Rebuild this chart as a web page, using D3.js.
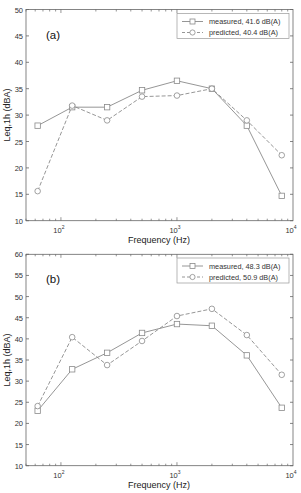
<!DOCTYPE html>
<html><head><meta charset="utf-8">
<script src="https://cdn.jsdelivr.net/npm/d3@7"></script>
<style>body{margin:0;background:#fff}svg{display:block;font-family:"Liberation Sans",Arial,sans-serif}</style>
</head><body><svg id="c" width="301" height="493"></svg>
<script>
const freqs = [63,125,250,500,1000,2000,4000,8000];
const measuredA = [28,31.5,31.5,34.7,36.5,35,28,14.7];
const predictedA = [15.6,31.8,29,33.5,33.7,35,29,22.4];
const measuredB = [23,32.8,36.7,41.4,43.5,43.1,36.1,23.7];
const predictedB = [24.1,40.4,33.8,39.5,45.4,47.1,40.9,31.5];
const labelsA = ["measured, 41.6 dB(A)","predicted, 40.4 dB(A)"];
const labelsB = ["measured, 48.3 dB(A)","predicted, 50.9 dB(A)"];
const yTicksA = d3.range(10,51,5);
const yTicksB = d3.range(10,61,5);
const xTicks = [100,1000,10000];

const svg = d3.select("#c");
const col = "#8a8a8a";
const axCol = "#666";

function panel(top, bottom, yMax, yTicks, meas, pred, labels, tag, legTop) {
  const g = svg.append("g");
  const x = d3.scaleLog().domain([50,10000]).range([26,293]);
  const y = d3.scaleLinear().domain([10,yMax]).range([bottom, top]);
  g.append("rect").attr("x",26).attr("y",top).attr("width",267).attr("height",bottom-top)
    .attr("fill","none").attr("stroke",axCol).attr("stroke-width",0.8);
  // y ticks
  yTicks.forEach(t=>{
    g.append("line").attr("x1",26).attr("x2",29).attr("y1",y(t)).attr("y2",y(t)).attr("stroke",axCol).attr("stroke-width",0.8);
    g.append("line").attr("x1",290).attr("x2",293).attr("y1",y(t)).attr("y2",y(t)).attr("stroke",axCol).attr("stroke-width",0.8);
    g.append("text").attr("x",23).attr("y",y(t)+3).attr("text-anchor","end").attr("font-size",7.5).attr("fill","#333").text(t);
  });
  // x ticks major + minor
  const minor = [];
  for (let d=10; d<10000; d*=10) for (let k=1;k<10;k++){ const v=d*k; if(v>=50 && v<=10000) minor.push(v); }
  minor.forEach(v=>{
    const major = xTicks.includes(v);
    const L = major?3.5:2;
    g.append("line").attr("x1",x(v)).attr("x2",x(v)).attr("y1",bottom).attr("y2",bottom-L).attr("stroke",axCol).attr("stroke-width",0.7);
    g.append("line").attr("x1",x(v)).attr("x2",x(v)).attr("y1",top).attr("y2",top+L).attr("stroke",axCol).attr("stroke-width",0.7);
  });
  xTicks.forEach(v=>{
    const t = g.append("text").attr("x",x(v)-2).attr("y",bottom+12).attr("text-anchor","middle").attr("font-size",7.5).attr("fill","#333");
    t.append("tspan").text("10");
    t.append("tspan").attr("font-size",5).attr("dy",-3.5).text(Math.round(Math.log10(v)));
  });
  g.append("text").attr("x",159).attr("y",bottom+22.5).attr("text-anchor","middle").attr("font-size",9).attr("fill","#222").text("Frequency (Hz)");
  g.append("text").attr("transform",`translate(9.5,${(top+bottom)/2}) rotate(-90)`).attr("text-anchor","middle").attr("font-size",9).attr("fill","#222").text("Leq,1h (dBA)");
  g.append("text").attr("x",46).attr("y",top+29).attr("font-size",11.5).attr("fill","#111").text(tag);

  const line = d3.line().x((d,i)=>x(freqs[i])).y(d=>y(d));
  g.append("path").attr("d",line(meas)).attr("fill","none").attr("stroke",col).attr("stroke-width",0.9);
  g.append("path").attr("d",line(pred)).attr("fill","none").attr("stroke",col).attr("stroke-width",0.9).attr("stroke-dasharray","4,2");
  meas.forEach((d,i)=>g.append("rect").attr("x",x(freqs[i])-2.7).attr("y",y(d)-2.7).attr("width",5.4).attr("height",5.4).attr("fill","#fff").attr("stroke",col).attr("stroke-width",0.8));
  pred.forEach((d,i)=>g.append("circle").attr("cx",x(freqs[i])).attr("cy",y(d)).attr("r",2.8).attr("fill","#fff").attr("stroke",col).attr("stroke-width",0.8));

  // legend
  g.append("rect").attr("x",177).attr("y",legTop).attr("width",112).attr("height",25).attr("fill","#fff").attr("stroke","#999").attr("stroke-width",0.7);
  [0,1].forEach(i=>{
    const yy = legTop + 8 + i*11;
    g.append("line").attr("x1",182).attr("x2",203).attr("y1",yy).attr("y2",yy).attr("stroke",col).attr("stroke-width",0.9).attr("stroke-dasharray", i? "3,2":null);
    if (i===0) g.append("rect").attr("x",190).attr("y",yy-2.5).attr("width",5).attr("height",5).attr("fill","#fff").attr("stroke",col).attr("stroke-width",0.8);
    else g.append("circle").attr("cx",192.5).attr("cy",yy).attr("r",2.6).attr("fill","#fff").attr("stroke",col).attr("stroke-width",0.8);
    g.append("text").attr("x",209).attr("y",yy+2.7).attr("font-size",7.3).attr("fill","#333").text(labels[i]);
  });
}
panel(9.5, 220.7, 50, yTicksA, measuredA, predictedA, labelsA, "(a)", 13.5);
panel(254.3, 465.7, 60, yTicksB, measuredB, predictedB, labelsB, "(b)", 258);
</script></body></html>
